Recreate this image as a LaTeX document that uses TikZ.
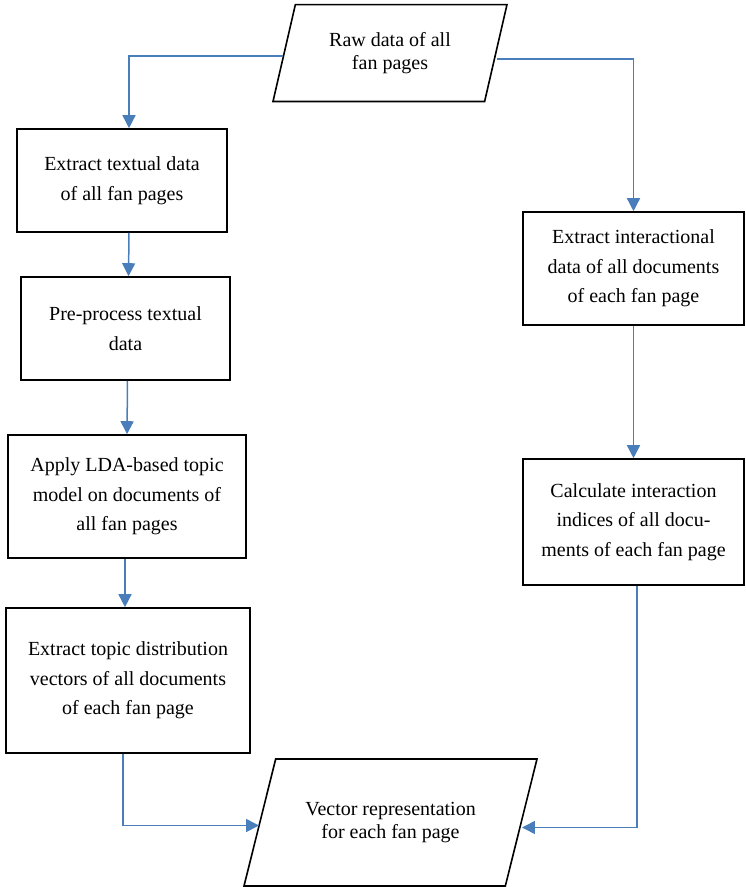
\documentclass[tikz,border=0pt]{standalone}
\usepackage{fontspec}
\setmainfont{Liberation Serif}
\usepackage{xcolor}
\usetikzlibrary{arrows.meta,shapes.geometric}
\definecolor{Flow}{HTML}{4A7EBB}

\begin{document}
\begin{tikzpicture}[x=1pt,y=-1pt,
    proc/.style={draw=black,line width=1.6pt,align=center,inner sep=0pt,
      font=\fontsize{20}{29.5}\selectfont},
    data/.style={draw=black,line width=1.6pt,align=center,inner xsep=0pt,
      trapezium,trapezium stretches body,trapezium left angle=77,
      trapezium right angle=103,font=\fontsize{20}{23.5}\selectfont},
    flow/.style={-{Triangle[length=13pt,width=13pt]},line width=1.5pt,draw=Flow}
]
\useasboundingbox (0,0) rectangle (745,887);
\node[data,minimum width=234pt,inner ysep=27.5pt] (raw) at (390,53) {Raw data of all\\fan pages};
\node[proc,minimum width=210pt,minimum height=103pt] (ext) at (122,180.5) {Extract textual data\\of all fan pages};
\node[proc,minimum width=209pt,minimum height=103pt] (pre) at (125.5,328.5) {Pre-process textual\\data};
\node[proc,minimum width=238pt,minimum height=123pt] (lda) at (127,496.5) {Apply LDA-based topic\\model on documents of\\all fan pages};
\node[proc,minimum width=244pt,minimum height=145pt] (topic) at (128,680.5) {Extract topic distribution\\vectors of all documents\\of each fan page};
\node[proc,minimum width=221pt,minimum height=113pt] (inter) at (633.5,268.5) {Extract interactional\\data of all documents\\of each fan page};
\node[proc,minimum width=221pt,minimum height=126pt] (calc) at (633.5,522) {Calculate interaction\\indices of all docu-\\ments of each fan page};
\node[data,minimum width=293pt,inner ysep=43pt,trapezium left angle=76,
  trapezium right angle=104] (vec) at (390.5,822.5) {Vector representation\\for each fan page};
% left branch
\draw[flow] ([yshift=-3pt]raw.west) -| ([xshift=7pt]ext.north);
\draw[flow] ([xshift=7pt]ext.south) -- ([xshift=3pt]pre.north);
\draw[flow] ([xshift=2pt]pre.south) -- (lda.north);
\draw[flow] ([xshift=-2pt]lda.south) -- ([xshift=-3pt]topic.north);
\draw[flow] ([xshift=-5pt]topic.south) |- ([yshift=-3pt]vec.west);
% right branch
\draw[flow] ([yshift=-6pt]raw.east) -| (inter.north);
\draw[flow] (inter) -- (calc);
\draw[flow] ([xshift=3.5pt]calc.south) |- ([yshift=-5pt]vec.east);
\end{tikzpicture}
\end{document}
